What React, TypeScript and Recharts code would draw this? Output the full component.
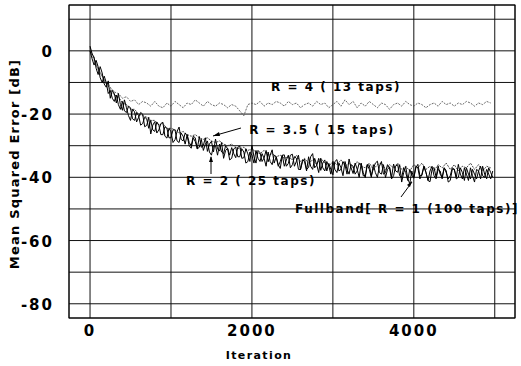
import React from 'react';
import { LineChart, Line, XAxis, YAxis, CartesianGrid } from 'recharts';

// iterations sampled every 25 (black curves) and every 50 (dotted curves)
const ITER_FINE = Array.from({ length: 200 }, (_, i) => i * 25);
const ITER_COARSE = Array.from({ length: 100 }, (_, i) => i * 50);

const FULLBAND = [
  1.5, -1, -2, -5.5, -7.5, -5, -7, -10.5, -11.5, -9.5, -15, -12.5, -13.5, -16.5, -13.5, -17, -18.8, -15.5, -18, -20.5,
  -22, -18.5, -19.3, -22.5, -21, -19.5, -20, -24, -23.6, -21, -26.3, -23.5, -22.4, -26, -25, -23, -22.6, -27, -27.6, -24.5,
  -25.6, -29, -28.1, -25.5, -24.1, -28, -28.5, -26, -26.9, -30, -30.8, -27.5, -28.7, -31, -27.1, -30.5, -29.9, -27.5, -31.8, -29.5,
  -28.6, -32, -27.9, -31, -31.7, -29, -34, -31.5, -30.8, -33, -30.6, -32.5, -33.8, -30.5, -30.1, -34, -33.8, -31, -32.6, -35,
  -29.8, -33.5, -35.5, -31.5, -32.2, -35, -33.9, -31.5, -35.1, -33, -31.3, -35.5, -33.5, -36, -37.2, -33, -32.9, -36.5, -35.6, -33,
  -32.7, -36.5, -34.9, -33, -37.6, -35, -34.2, -37.5, -36.9, -33.5, -32.5, -37, -36.2, -34, -37.8, -35.5, -34.5, -38, -35.6, -37.5,
  -39.2, -35, -34.4, -38, -37.5, -35, -36.1, -39, -34.2, -37, -38.8, -35.5, -37.4, -40, -35.5, -38.5, -40.1, -36, -36.2, -39.5,
  -37.3, -35.5, -34.9, -38.5, -39, -36, -40.1, -37.5, -36.7, -40, -35.8, -38, -38.4, -36, -41.5, -38.5, -36.6, -40.5, -42, -38,
  -40.3, -37, -35.9, -39.5, -39.4, -36.5, -38.4, -41, -41.4, -37.5, -36.9, -40, -36.4, -39, -40, -37, -37.9, -41.5, -41, -37.5,
  -37.4, -40, -35.9, -39, -40.5, -37, -39, -41, -37, -39.5, -41.5, -37.5, -38, -40.5, -36.5, -39, -40.5, -37, -38.5, -40,
];

const R2 = [
  0, -2.5, -4.5, -3, -5, -8.5, -10, -8, -10, -13.5, -12.5, -15, -16, -14, -17, -18.5, -16, -19, -19.5, -17.5,
  -18, -21.5, -22, -19.5, -20.5, -23.5, -23, -21, -21.5, -24.5, -22, -25, -25.5, -22.5, -23.5, -26.5, -26.5, -24, -24.5, -27.5,
  -27.5, -25, -25, -28.5, -29, -26, -27, -29.5, -26.5, -29, -30, -27, -27.5, -31, -30.5, -28, -31.5, -29.5, -28.5, -32,
  -33, -30, -30, -33, -29.5, -32, -32.5, -30, -31, -34.5, -34, -31, -30.5, -33.5, -33.5, -31, -32, -35.5, -35, -32,
  -33, -35.5, -31.5, -34, -35, -32.5, -34, -36.5, -32, -35, -36, -33, -33.5, -36.5, -35, -33, -36.5, -34.5, -33, -37,
  -36, -33.5, -34, -37.5, -37.5, -34.5, -35, -38, -33.5, -36.5, -37.5, -34, -36, -38.5, -34, -37, -38, -35, -36.5, -39,
  -35, -37.5, -38.5, -35.5, -37, -39.5, -35, -37.5, -39, -36, -36.5, -39, -38, -35.5, -36, -39.5, -39.5, -36, -37.5, -40,
  -36, -38.5, -40, -36.5, -35, -39, -38.5, -36, -37, -40.5, -39.5, -36.5, -36, -39.5, -40, -37, -38.5, -41, -37.5, -39.5,
  -40, -36.5, -37, -40.5, -39, -36.5, -38.5, -41, -38, -36.5, -39.5, -40.5, -37.5, -38, -40.5, -37, -38.5, -40.5, -39.5, -37,
  -37.5, -40.5, -40, -37, -38.5, -41, -37, -39, -40.5, -37.5, -39, -40.5, -38, -36.5, -39.5, -40, -37.5, -39, -40.5, -38,
];

const R35 = [
  1, -2.5, -5.5, -8, -10.5, -12, -14, -14.5, -16.5, -17, -18.5, -18.5, -20, -20.5, -21, -22, -22, -23.5, -23, -24.5,
  -24.5, -25, -26, -25.5, -26.5, -27, -26.5, -27.5, -28, -27.5, -28.5, -29, -28.5, -29.5, -30, -29.5, -30.5, -31, -30.5, -31.5,
  -31, -32, -32.5, -31.5, -33, -32.5, -33.5, -33, -34, -33.5, -34.5, -33, -35, -34, -35.5, -34.5, -36, -34, -35.5, -36.5,
  -35, -36, -34.5, -36.5, -35.5, -37, -35, -36.5, -37, -35.5, -37.5, -36, -35.5, -37.5, -36, -37, -35.5, -37.5, -36.5, -38,
  -36, -37, -35.5, -37.5, -36.5, -38, -36, -37, -35.5, -37.5, -36, -38, -36.5, -37, -35.5, -37.5, -36, -38, -36.5, -37,
];

const R4 = [
  0, -3, -6, -8, -10, -11.5, -13, -13.5, -15, -14.5, -16, -15.5, -17, -16, -16.5, -17.5, -16, -17.5, -18, -16.5,
  -17.5, -16, -17, -18, -16.5, -17, -15.5, -16.5, -17.5, -16, -17, -17.5, -16.5, -17, -18, -17, -17.5, -19, -20.5, -17,
  -16.5, -17, -16, -17.5, -16.5, -17, -16, -16.5, -17.5, -16, -17, -16.5, -18, -17, -16.5, -17.5, -16, -17, -16.5, -18,
  -17, -16, -17.5, -15.5, -17, -16, -18, -16.5, -17.5, -16, -17, -18, -16.5, -17, -18.5, -17, -16.5, -17.5, -16, -17,
  -17.5, -16.5, -17, -18, -17, -16.5, -17.5, -16, -17, -16.5, -17.5, -16.5, -17, -16, -16.5, -17.5, -16.5, -17, -16, -16.5,
];

const X_TICKS = [0, 1000, 2000, 3000, 4000, 5000];
const X_LABELED = [0, 2000, 4000];
const Y_TICKS = [10, 0, -10, -20, -30, -40, -50, -60, -70, -80];
const Y_LABELED = [0, -20, -40, -60, -80];
const X_DOMAIN: [number, number] = [-260, 5250];
const Y_DOMAIN: [number, number] = [-84.5, 14.5];

const fineData = ITER_FINE.map((it, i) => ({ it, fb: FULLBAND[i], r2: R2[i] }));
const coarseData = ITER_COARSE.map((it, i) => ({ it, r35: R35[i], r4: R4[i] }));

const FONT = '"DejaVu Sans", Arial, sans-serif';

const W = 521;
const H = 366;
const PLOT = { left: 69, right: 515, top: 5, bottom: 318 };

const XTick = (props: any) => {
  const { x, y, payload } = props;
  if (!X_LABELED.includes(payload.value)) return null;
  return (
    <text x={x} y={y + 18} textAnchor="middle" fontFamily={FONT} fontWeight="bold" fontSize={15} letterSpacing={2} fill="#000">
      {payload.value}
    </text>
  );
};

const YTick = (props: any) => {
  const { x, y, payload } = props;
  if (!Y_LABELED.includes(payload.value)) return null;
  return (
    <text x={x - 15} y={y + 6} textAnchor="end" fontFamily={FONT} fontWeight="bold" fontSize={15} letterSpacing={2} fill="#000">
      {payload.value}
    </text>
  );
};

const annStyle = { fontFamily: FONT, fontWeight: 'bold' as const, fontSize: 12, letterSpacing: 1.5, fill: '#000' };

export default function App() {
  return (
    <div style={{ position: 'absolute', left: 0, top: 0, width: W, height: H, background: '#fff' }}>
      <LineChart
        width={W}
        height={H}
        margin={{ top: PLOT.top, right: W - PLOT.right, left: 0, bottom: 0 }}
      >
        <CartesianGrid stroke="#111" strokeWidth={1} />
        <XAxis
          dataKey="it"
          type="number"
          domain={X_DOMAIN}
          ticks={X_TICKS}
          allowDataOverflow
          axisLine={false}
          tickLine={false}
          tickSize={0}
          tickMargin={0}
          height={H - PLOT.bottom}
          tick={<XTick />}
          interval={0}
        />
        <YAxis
          type="number"
          domain={Y_DOMAIN}
          ticks={Y_TICKS}
          allowDataOverflow
          axisLine={false}
          tickLine={false}
          tickSize={0}
          tickMargin={0}
          width={PLOT.left}
          tick={<YTick />}
          interval={0}
        />
        <Line data={coarseData} dataKey="r4" stroke="#444" strokeWidth={0.8} strokeDasharray="2 1.2" dot={false} isAnimationActive={false} />
        <Line data={coarseData} dataKey="r35" stroke="#333" strokeWidth={0.9} strokeDasharray="2 1" dot={false} isAnimationActive={false} />
        <Line data={fineData} dataKey="r2" stroke="#000" strokeWidth={1} dot={false} isAnimationActive={false} />
        <Line data={fineData} dataKey="fb" stroke="#000" strokeWidth={1} dot={false} isAnimationActive={false} />
      </LineChart>
      <svg width={W} height={H} style={{ position: 'absolute', left: 0, top: 0, pointerEvents: 'none' }}>
        <rect x={PLOT.left} y={PLOT.top} width={PLOT.right - PLOT.left} height={PLOT.bottom - PLOT.top} fill="none" stroke="#000" strokeWidth={1} />
        <text x={336} y={91} textAnchor="middle" {...annStyle}>R = 4 ( 13 taps)</text>
        <text x={322} y={134} textAnchor="middle" {...annStyle}>R = 3.5 ( 15 taps)</text>
        <line x1={241} y1={128} x2={213} y2={136} stroke="#000" strokeWidth={1} />
        <path d="M213,136 L219,132 L220,136 Z" fill="#000" />
        <text x={251} y={185} textAnchor="middle" {...annStyle}>R = 2 ( 25 taps)</text>
        <line x1={211} y1={174} x2={211} y2={157} stroke="#000" strokeWidth={1} />
        <path d="M211,156 L209,162 L213,162 Z" fill="#000" />
        <text x={407} y={213} textAnchor="middle" {...annStyle}>Fullband[ R = 1 (100 taps)]</text>
        <line x1={401} y1={197} x2={412} y2={182} stroke="#000" strokeWidth={1} />
        <path d="M412,181 L407,185 L410,187 Z" fill="#000" />
        <text x={259} y={359} textAnchor="middle" fontFamily={FONT} fontWeight="bold" fontSize={11} letterSpacing={1.4} fill="#000">Iteration</text>
        <text x={14} y={164} transform="rotate(-90, 14, 164)" textAnchor="middle" dominantBaseline="central" fontFamily={FONT} fontWeight="bold" fontSize={13} letterSpacing={1.2} fill="#000">Mean Squared Error [dB]</text>
      </svg>
    </div>
  );
}
